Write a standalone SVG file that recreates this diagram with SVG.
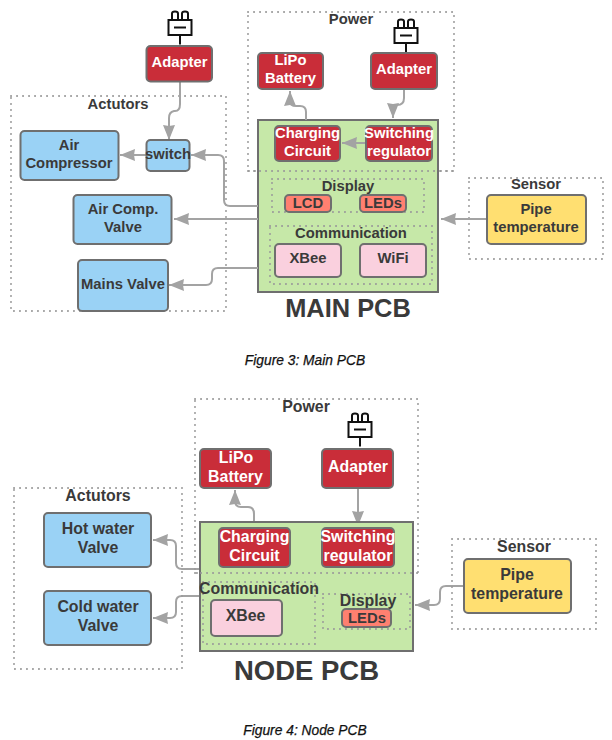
<svg xmlns="http://www.w3.org/2000/svg" width="612" height="740" viewBox="0 0 612 740">
<style>
text{font-family:"Liberation Sans",Arial,sans-serif;font-weight:700;text-anchor:middle;fill:#3a3a3a;font-size:14.800px}
.n{font-size:15.900px}
.w{fill:#fff}
.cap{font-weight:400;font-style:italic;fill:#111;stroke:#111;stroke-width:.25;font-size:13.800px}
.title{font-size:25.400px}
.big{font-size:27.500px}
.r{stroke:#6f6f6f;stroke-width:2}
.red{fill:#c92d39}.blue{fill:#9ad2f5}.yel{fill:#ffdf71}.pink{fill:#fad0de}.sal{fill:#ff8070}.pcb{fill:#c6e8a8}
.dot{fill:none;stroke:#9a9a9a;stroke-width:2;stroke-dasharray:.1 5.900;stroke-linecap:round}
.c{fill:none;stroke:#a3a3a3;stroke-width:2}
.plug{fill:#fff;stroke:#111;stroke-width:2}
.pl{fill:none;stroke:#111;stroke-width:2}
</style>
<defs>
<marker id="a" markerUnits="userSpaceOnUse" markerWidth="16" markerHeight="14" refX="15" refY="7" orient="auto"><path d="M0 1L15 7L0 13L1 7Z" fill="#a3a3a3"/></marker>
<g id="plug"><path class="pl" d="M-8-7V-14Q-8-16-5-16T-2-14V-7M2-7V-14Q2-16 5-16T8-14V-7M0 7V17"/><rect class="plug" x="-11.500" y="-7.500" width="23" height="15"/><path class="pl" d="M-6 0H6"/></g>
</defs>

<g id="main-groups">
<rect class="dot" x="11" y="96" width="215" height="215"/>
<rect class="dot" x="248" y="12" width="206" height="159"/>
<rect class="dot" x="469" y="178" width="134" height="81"/>
</g>
<g id="main-pcb"><rect class="pcb r" x="258" y="120" width="180" height="172"/>
<rect class="dot" x="272" y="179" width="152" height="33"/>
<rect class="dot" x="270" y="226" width="162" height="58"/>
<path class="dot" d="M248 171H454"/>
<text class="title" x="348" y="317">MAIN PCB</text></g>

<g id="connectors">
<path class="c" marker-end="url(#a)" d="M180 82V104Q180 111 175 111H174Q169 112 169 118V140"/>
<path class="c" marker-end="url(#a)" d="M146 155H120"/>
<path class="c" marker-end="url(#a)" d="M258 206H230Q224 206 224 200V161Q224 155 218 155H191"/>
<path class="c" marker-end="url(#a)" d="M258 219H174"/>
<path class="c" marker-end="url(#a)" d="M258 268H218Q212 268 212 274V279Q212 285 206 285H169"/>
<path class="c" marker-end="url(#a)" d="M306 120V112Q306 106 300 106H296Q290 106 290 101V91"/>
<path class="c" marker-end="url(#a)" d="M404 89V98Q404 105 397 105H393V118"/>
<path class="c" marker-end="url(#a)" d="M366 143H342"/>
<path class="c" marker-end="url(#a)" d="M487 219H441"/>
<path class="c" marker-end="url(#a)" d="M358 488V526"/>
<path class="c" marker-end="url(#a)" d="M322 547H292"/>
<path class="c" marker-end="url(#a)" d="M254 528V514Q254 507 248 507H241Q235 507 235 501V490"/>
<path class="c" marker-end="url(#a)" d="M200 569H182Q176 569 176 563V546Q176 540 170 540H153"/>
<path class="c" marker-end="url(#a)" d="M200 596H182Q176 596 176 602V612Q176 618 170 618H153"/>
<path class="c" marker-end="url(#a)" d="M464 586H446Q440 586 440 592V599Q440 605 434 605H415"/>
</g>

<g id="plug1"><use href="#plug" x="180" y="27.500"/></g>
<g id="adapter1"><rect class="red r" x="146.500" y="46" width="65.500" height="35.500" rx="4"/><text class="w" x="179.500" y="67">Adapter</text></g>
<text x="118" y="109">Actutors</text>
<g id="air-compressor"><rect class="blue r" x="20.500" y="131" width="98" height="49" rx="4"/><text x="69" y="150">Air</text><text x="69" y="168">Compressor</text></g>
<g id="switch"><rect class="blue r" x="146.500" y="140" width="43" height="31" rx="4"/><text x="168" y="159">switch</text></g>
<g id="air-comp-valve"><rect class="blue r" x="73.500" y="195" width="98" height="49" rx="4"/><text x="123" y="214">Air Comp.</text><text x="123" y="232">Valve</text></g>
<g id="mains-valve"><rect class="blue r" x="78" y="260" width="90" height="51" rx="4"/><text x="123" y="289">Mains Valve</text></g>

<text x="351" y="24">Power</text>
<g id="lipo1"><rect class="red r" x="258" y="53" width="65" height="36" rx="4"/><text class="w" x="290.500" y="65">LiPo</text><text class="w" x="290.500" y="83">Battery</text></g>
<g id="plug2"><use href="#plug" x="406" y="35.500"/></g>
<g id="adapter2"><rect class="red r" x="371" y="53" width="66" height="36" rx="4"/><text class="w" x="404" y="74">Adapter</text></g>
<g id="charging1"><rect class="red r" x="275" y="126" width="65" height="35" rx="4"/><text class="w" x="307.500" y="138">Charging</text><text class="w" x="307.500" y="156">Circuit</text></g>
<g id="switching1"><rect class="red r" x="366" y="126" width="66" height="35" rx="4"/><text class="w" x="399" y="138">Switching</text><text class="w" x="399" y="156">regulator</text></g>
<text x="348" y="191">Display</text>
<g id="lcd"><rect class="sal r" x="285" y="195" width="46" height="17" rx="4"/><text x="308" y="208">LCD</text></g>
<g id="leds1"><rect class="sal r" x="360" y="195" width="46" height="17" rx="4"/><text x="383" y="208">LEDs</text></g>
<text x="351" y="238">Communication</text>
<g id="xbee1"><rect class="pink r" x="275" y="244" width="66" height="33" rx="4"/><text x="308" y="263">XBee</text></g>
<g id="wifi"><rect class="pink r" x="360" y="244" width="66" height="33" rx="4"/><text x="393" y="263">WiFi</text></g>
<text x="536" y="189">Sensor</text>
<g id="pipe1"><rect class="yel r" x="487" y="195" width="99" height="49" rx="4"/><text x="536" y="214">Pipe</text><text x="536" y="232">temperature</text></g>
<text class="cap" x="305" y="365">Figure 3: Main PCB</text>

<g id="node-groups">
<rect class="dot" x="14" y="488" width="168" height="181"/>
<rect class="dot" x="195" y="399" width="223" height="174"/>
<rect class="dot" x="452" y="539" width="144" height="90"/>
</g>
<g id="node-pcb"><rect class="pcb r" x="200" y="522" width="213" height="129"/>
<path class="dot" d="M195 573H418"/>
<rect class="dot" x="203" y="582" width="112" height="62"/>
<rect class="dot" x="323" y="594" width="87" height="35"/>
<text class="big" x="306.500" y="680">NODE PCB</text></g>
<g id="plug3"><use href="#plug" x="360" y="429.500"/></g>
<text class="n" x="306" y="412">Power</text>
<g id="lipo2"><rect class="red r" x="200" y="449" width="71" height="39" rx="4"/><text class="w n" x="236" y="463">LiPo</text><text class="w n" x="235.500" y="482">Battery</text></g>
<g id="adapter3"><rect class="red r" x="322" y="449" width="71" height="39" rx="4"/><text class="w n" x="358" y="472">Adapter</text></g>
<g id="charging2"><rect class="red r" x="219" y="528" width="71" height="39" rx="4"/><text class="w n" x="254.500" y="542">Charging</text><text class="w n" x="254.500" y="561">Circuit</text></g>
<g id="switching2"><rect class="red r" x="322" y="528" width="72" height="39" rx="4"/><text class="w n" x="358" y="542">Switching</text><text class="w n" x="358" y="561">regulator</text></g>
<text class="n" x="98" y="501">Actutors</text>
<g id="hot"><rect class="blue r" x="44" y="513" width="107" height="54" rx="4"/><text class="n" x="98" y="534">Hot water</text><text class="n" x="98" y="553">Valve</text></g>
<g id="cold"><rect class="blue r" x="44" y="591" width="107" height="54" rx="4"/><text class="n" x="98" y="612">Cold water</text><text class="n" x="98" y="631">Valve</text></g>
<text class="n" x="259" y="594">Communication</text>
<g id="xbee2"><rect class="pink r" x="211" y="600" width="71" height="36" rx="4"/><text class="n" x="245.500" y="621">XBee</text></g>
<text class="n" x="368" y="605.500">Display</text>
<g id="leds2"><rect class="sal r" x="342" y="609" width="49" height="18" rx="4"/><text x="367" y="623">LEDs</text></g>
<text class="n" x="524" y="552">Sensor</text>
<g id="pipe2"><rect class="yel r" x="464" y="559" width="107" height="54" rx="4"/><text class="n" x="517" y="580">Pipe</text><text class="n" x="517" y="599">temperature</text></g>
<text class="cap" x="305" y="735">Figure 4: Node PCB</text>
</svg>
